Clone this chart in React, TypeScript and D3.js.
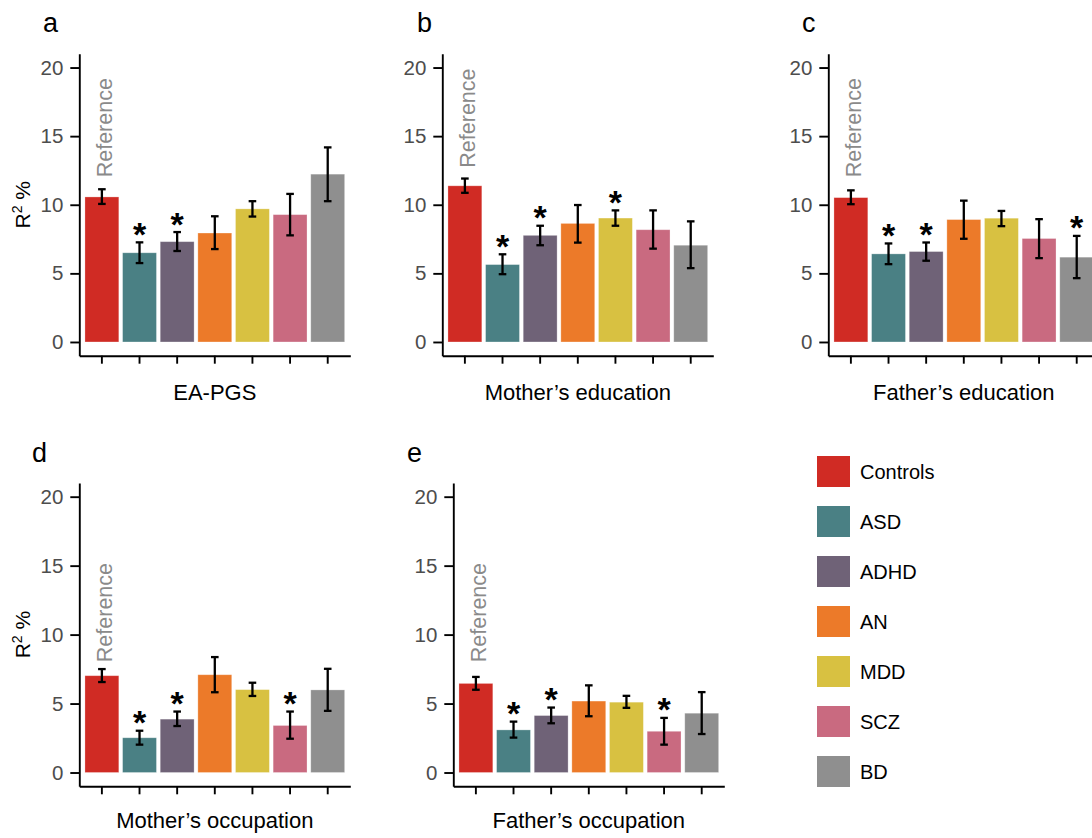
import React, { useEffect, useRef } from 'react';
import * as d3 from 'd3';

// groups and their colours
const groups = ['Controls', 'ASD', 'ADHD', 'AN', 'MDD', 'SCZ', 'BD'];
const groupColors = ['#d02b24', '#4a8084', '#6f6277', '#ec7a29', '#d8c141', '#c96a80', '#8f8f8f'];

const panelLetters = ['a', 'b', 'c', 'd', 'e'];
const outcomes = ['EA-PGS', 'Mother’s education', 'Father’s education', 'Mother’s occupation', 'Father’s occupation'];
const yTicks = [0, 5, 10, 15, 20];

// R2 % estimates with lower / upper error bounds, * = significant vs controls
const eaPgs = [10.57, 6.5, 7.31, 7.94, 9.7, 9.28, 12.23];
const eaPgsLo = [10.06, 5.75, 6.63, 6.77, 9.14, 7.77, 10.26];
const eaPgsHi = [11.13, 7.26, 8.01, 9.16, 10.26, 10.79, 14.18];
const eaPgsSig = [false, true, true, false, false, false, false];

const motherEdu = [11.38, 5.64, 7.77, 8.64, 9.03, 8.18, 7.05];
const motherEduLo = [10.87, 4.94, 7.05, 7.24, 8.47, 6.8, 5.38];
const motherEduHi = [11.91, 6.39, 8.47, 9.98, 9.59, 9.59, 8.79];
const motherEduSig = [false, true, true, false, true, false, false];

const fatherEdu = [10.52, 6.42, 6.59, 8.92, 9.02, 7.54, 6.18];
const fatherEduLo = [10.04, 5.67, 5.92, 7.52, 8.44, 6.11, 4.65];
const fatherEduHi = [11.05, 7.18, 7.25, 10.3, 9.55, 8.95, 7.73];
const fatherEduSig = [false, true, true, false, false, false, true];

const motherOcc = [7.02, 2.52, 3.87, 7.09, 6.01, 3.41, 5.99];
const motherOccLo = [6.56, 2.02, 3.37, 5.82, 5.55, 2.45, 4.47];
const motherOccHi = [7.5, 3.03, 4.42, 8.37, 6.51, 4.42, 7.52];
const motherOccSig = [false, true, true, false, false, true, false];

const fatherOcc = [6.46, 3.09, 4.13, 5.18, 5.1, 2.99, 4.3];
const fatherOccLo = [6.0, 2.53, 3.57, 4.08, 4.69, 2.02, 2.79];
const fatherOccHi = [6.93, 3.69, 4.71, 6.32, 5.56, 3.96, 5.83];
const fatherOccSig = [false, true, true, false, false, true, false];

// y value (data units) where the "Reference" label starts
const referenceY = [12, 12.7, 12, 8, 8];

const FONT = 'Liberation Sans, Arial, Helvetica, sans-serif';

const App = () => {
  const svgRef = useRef<SVGSVGElement>(null);

  useEffect(() => {
    const svg = d3.select(svgRef.current);
    svg.selectAll('*').remove();

    const panels = [
      { v: eaPgs, lo: eaPgsLo, hi: eaPgsHi, sig: eaPgsSig },
      { v: motherEdu, lo: motherEduLo, hi: motherEduHi, sig: motherEduSig },
      { v: fatherEdu, lo: fatherEduLo, hi: fatherEduHi, sig: fatherEduSig },
      { v: motherOcc, lo: motherOccLo, hi: motherOccHi, sig: motherOccSig },
      { v: fatherOcc, lo: fatherOccLo, hi: fatherOccHi, sig: fatherOccSig },
    ];

    // panel placement: y-axis x position, y range of [-1, 21]
    const axisX = [79.3, 442.3, 828.3, 79.3, 453.3];
    const plotW = 271;
    const rows = [
      { bottom: 355.7, top: 53.8, title: 400, letter: 32 },
      { bottom: 786.3, top: 482.9, title: 828, letter: 462 },
    ];
    const letterX = [43, 417, 802, 32, 407];

    panels.forEach((p, k) => {
      const row = rows[k < 3 ? 0 : 1];
      const x0 = axisX[k];

      const x = d3.scaleBand()
        .domain(groups)
        .range([x0, x0 + plotW])
        .paddingInner(0.1)
        .paddingOuter(0.15);

      const y = d3.scaleLinear()
        .domain([-1, 21])
        .range([row.bottom, row.top]);

      const g = svg.append('g');

      // bars
      g.selectAll('.bar')
        .data(groups)
        .enter()
        .append('rect')
        .attr('x', d => x(d)!)
        .attr('width', x.bandwidth())
        .attr('y', (d, i) => y(p.v[i]))
        .attr('height', (d, i) => y(0) - y(p.v[i]))
        .attr('fill', (d, i) => groupColors[i])
        .attr('stroke', '#ffffff')
        .attr('stroke-opacity', 0.35)
        .attr('stroke-width', 0.8);

      // error bars
      const cap = 3.8;
      groups.forEach((gName, i) => {
        const cx = x(gName)! + x.bandwidth() / 2;
        const eb = g.append('g').attr('stroke', '#000').attr('stroke-width', 2.3);
        eb.append('line').attr('x1', cx).attr('x2', cx).attr('y1', y(p.lo[i])).attr('y2', y(p.hi[i]));
        eb.append('line').attr('x1', cx - cap).attr('x2', cx + cap).attr('y1', y(p.lo[i])).attr('y2', y(p.lo[i]));
        eb.append('line').attr('x1', cx - cap).attr('x2', cx + cap).attr('y1', y(p.hi[i])).attr('y2', y(p.hi[i]));
        if (p.sig[i]) {
          g.append('text')
            .attr('x', cx)
            .attr('y', y(p.hi[i]) + 3.5)
            .attr('text-anchor', 'middle')
            .attr('font-family', FONT)
            .attr('font-weight', 'bold')
            .attr('font-size', 34)
            .text('*');
        }
      });

      // Reference label over controls
      const refX = x(groups[0])! + x.bandwidth() / 2 + 10.5;
      const refY = y(referenceY[k]);
      g.append('text')
        .attr('transform', `translate(${refX},${refY}) rotate(-90)`)
        .attr('font-family', FONT)
        .attr('font-size', 21.5)
        .attr('fill', '#8a8a8a')
        .text('Reference');

      // axes
      const yAxis = g.append('g')
        .attr('transform', `translate(${x0},0)`)
        .call(d3.axisLeft(y).tickValues(yTicks).tickSize(9).tickSizeOuter(0).tickPadding(7));
      yAxis.selectAll('text')
        .attr('font-family', FONT)
        .attr('font-size', 20.5)
        .attr('fill', '#4d4d4d');

      const xAxis = g.append('g')
        .attr('transform', `translate(0,${row.bottom})`)
        .call(d3.axisBottom(x).tickSize(8).tickSizeOuter(0).tickFormat(() => ''));

      [yAxis, xAxis].forEach(a => {
        a.select('.domain').attr('stroke', '#000').attr('stroke-width', 1.9);
        a.selectAll('.tick line').attr('stroke', '#000').attr('stroke-width', 1.9);
      });

      // x title
      g.append('text')
        .attr('x', x0 + plotW / 2)
        .attr('y', row.title)
        .attr('text-anchor', 'middle')
        .attr('font-family', FONT)
        .attr('font-size', 22)
        .attr('fill', '#000')
        .text(outcomes[k]);

      // y title on first column
      if (k === 0 || k === 3) {
        const yt = g.append('text')
          .attr('transform', `translate(30,${(row.top + row.bottom) / 2}) rotate(-90)`)
          .attr('text-anchor', 'middle')
          .attr('font-family', FONT)
          .attr('font-size', 21)
          .attr('fill', '#000');
        yt.append('tspan').text('R');
        yt.append('tspan').attr('font-size', 14).attr('dy', -8).text('2');
        yt.append('tspan').attr('dy', 8).text(' %');
      }

      // panel letter
      svg.append('text')
        .attr('x', letterX[k])
        .attr('y', row.letter)
        .attr('font-family', FONT)
        .attr('font-size', 27)
        .attr('fill', '#000')
        .text(panelLetters[k]);
    });

    // legend
    const legend = svg.append('g').attr('transform', 'translate(817,456)');
    groups.forEach((gName, i) => {
      const item = legend.append('g').attr('transform', `translate(0,${i * 50})`);
      item.append('rect')
        .attr('width', 33)
        .attr('height', 31)
        .attr('fill', groupColors[i]);
      item.append('text')
        .attr('x', 43)
        .attr('y', 15.5)
        .attr('dy', '0.35em')
        .attr('font-family', FONT)
        .attr('font-size', 20)
        .attr('fill', '#000')
        .text(gName);
    });
  }, []);

  return (
    <svg
      ref={svgRef}
      width={1092}
      height={838}
      style={{ position: 'absolute', left: 0, top: 0, background: '#fff' }}
    />
  );
};

export default App;
